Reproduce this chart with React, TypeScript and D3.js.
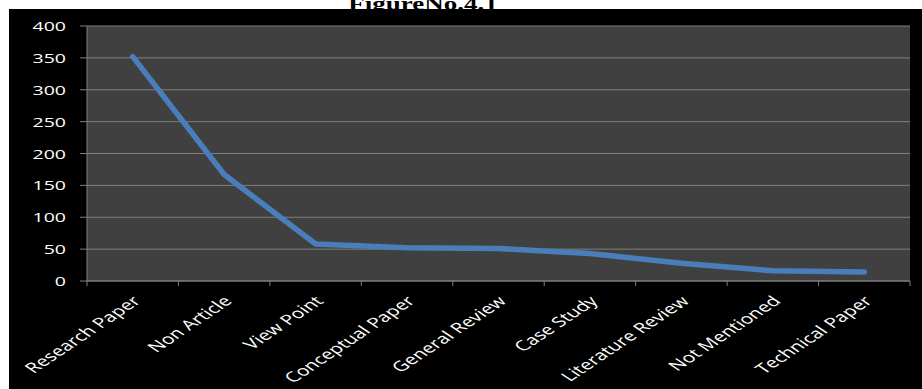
import React from "react";
import * as d3 from "d3";

const categories = [
  "Research Paper",
  "Non Article",
  "View Point",
  "Conceptual Paper",
  "General Review",
  "Case Study",
  "Literature Review",
  "Not Mentioned",
  "Technical Paper",
];
const values = [352, 167, 58, 52, 51, 43, 28, 16, 14];
const yTicks = [0, 50, 100, 150, 200, 250, 300, 350, 400];
const title = "FigureNo.4.1";

const W = 922;
const H = 389;
const SX = 1.5; // horizontal stretch of the original picture

export default function App() {
  const x = d3.scaleBand<string>().domain(categories).range([87, 910]).padding(0);
  const y = d3.scaleLinear().domain([0, 400]).range([281, 26]);
  const cx = (c: string) => (x(c) as number) + x.bandwidth() / 2;
  const line = d3
    .line<number>()
    .x((_, i) => cx(categories[i]))
    .y((d) => y(d));
  const boundaries = categories.map((c) => x(c) as number).concat([910]);

  return (
    <svg
      width={W}
      height={H}
      style={{ position: "absolute", left: 0, top: 0, background: "#fff" }}
    >
      <text
        transform={`translate(423,10) scale(${SX},1)`}
        textAnchor="middle"
        fontFamily="'Liberation Serif', 'Times New Roman', serif"
        fontWeight="bold"
        fontSize={18}
        fill="#000"
      >
        {title}
      </text>
      <rect x={9} y={9} width={W - 9} height={H - 9} fill="#000" />
      <rect x={87} y={26} width={823} height={255} fill="#404040" />
      {yTicks.map((t) => (
        <g key={t}>
          {t > 0 && (
            <line x1={87} x2={910} y1={y(t)} y2={y(t)} stroke="#7f7f7f" strokeWidth={1} />
          )}
          <line x1={80} x2={87} y1={y(t)} y2={y(t)} stroke="#7f7f7f" strokeWidth={1} />
          <text
            transform={`translate(66,${y(t)}) scale(${SX},1)`}
            textAnchor="end"
            dominantBaseline="central"
            fontFamily="'Open Sans', sans-serif"
            fontSize={13}
            fill="#fff"
          >
            {t}
          </text>
        </g>
      ))}
      <line x1={87} x2={87} y1={26} y2={281} stroke="#7f7f7f" strokeWidth={1} />
      <line x1={87} x2={910} y1={281} y2={281} stroke="#7f7f7f" strokeWidth={1.5} />
      {boundaries.map((b, i) => (
        <line key={i} x1={b} x2={b} y1={281} y2={286} stroke="#7f7f7f" strokeWidth={1} />
      ))}
      <path
        d={line(values) as string}
        fill="none"
        stroke="#4a7ebb"
        strokeWidth={5.5}
        strokeLinecap="round"
        strokeLinejoin="round"
      />
      {categories.map((c) => (
        <text
          key={c}
          transform={`translate(${cx(c) + 9},${302}) scale(${SX},1) rotate(-45)`}
          textAnchor="end"
          fontFamily="'Open Sans', sans-serif"
          fontSize={14}
          fill="#fff"
        >
          {c}
        </text>
      ))}
    </svg>
  );
}
